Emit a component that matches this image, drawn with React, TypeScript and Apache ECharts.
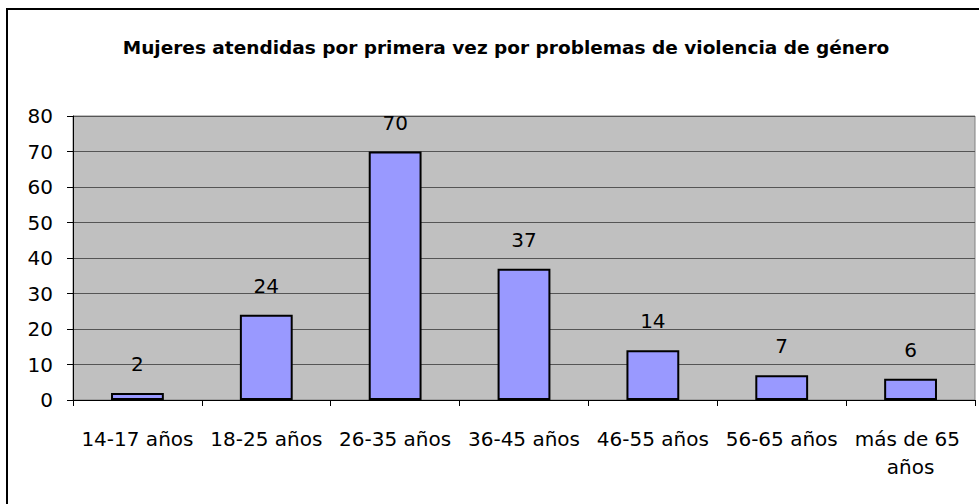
import React, { useEffect, useRef } from "react";
import * as echarts from "echarts";

const titleText = "Mujeres atendidas por primera vez por problemas de violencia de género";
const categories = ["14-17 años", "18-25 años", "26-35 años", "36-45 años", "46-55 años", "56-65 años", "más de 65 años"];
const values = [2, 24, 70, 37, 14, 7, 6];
const yMin = 0;
const yMax = 80;
const yInterval = 10;

const FONT = "DejaVu Sans";

export default function App() {
  const ref = useRef<HTMLDivElement>(null);
  useEffect(() => {
    if (!ref.current) return;
    const chart = echarts.init(ref.current, null, { renderer: "svg" });
    chart.setOption({
      animation: false,
      backgroundColor: "#ffffff",
      textStyle: { fontFamily: FONT, color: "#000" },
      title: {
        text: titleText,
        left: 501,
        top: 33,
        textAlign: "center",
        textStyle: { fontFamily: FONT, fontWeight: "bold", fontSize: 18.5, color: "#000" },
      },
      graphic: [
        {
          type: "rect",
          shape: { x: 7, y: 9, width: 1100, height: 700 },
          style: { fill: "none", stroke: "#000", lineWidth: 2 },
          z: 100,
          silent: true,
        },
      ],
      grid: {
        left: 73,
        right: 4,
        top: 116,
        bottom: 104,
        show: true,
        backgroundColor: "#C0C0C0",
        borderColor: "#808080",
        borderWidth: 1,
      },
      xAxis: {
        type: "category",
        data: categories,
        boundaryGap: true,
        axisLine: { show: true, lineStyle: { color: "#000", width: 1 } },
        axisTick: { show: true, length: 6, alignWithLabel: false, lineStyle: { color: "#000" } },
        axisLabel: {
          interval: 0,
          margin: 25,
          fontSize: 20,
          fontFamily: FONT,
          color: "#000",
          width: 127,
          overflow: "break",
          lineHeight: 28,
        },
      },
      yAxis: {
        type: "value",
        min: yMin,
        max: yMax,
        interval: yInterval,
        axisLine: { show: true, lineStyle: { color: "#000", width: 1 } },
        axisTick: { show: true, length: 6, lineStyle: { color: "#000" } },
        axisLabel: { margin: 20, fontSize: 20, fontFamily: FONT, color: "#000" },
        splitLine: { show: true, lineStyle: { color: "#555555", width: 1 } },
      },
      series: [
        {
          type: "bar",
          data: values,
          barWidth: "41%",
          itemStyle: { color: "#9999FF", borderColor: "#000", borderWidth: 2 },
          label: {
            show: true,
            position: "top",
            distance: 19,
            fontSize: 20,
            fontFamily: FONT,
            color: "#000",
          },
        },
      ],
    });
    return () => chart.dispose();
  }, []);
  return (
    <div
      ref={ref}
      style={{ position: "fixed", left: 0, top: 0, width: 979, height: 504, background: "#fff" }}
    />
  );
}
